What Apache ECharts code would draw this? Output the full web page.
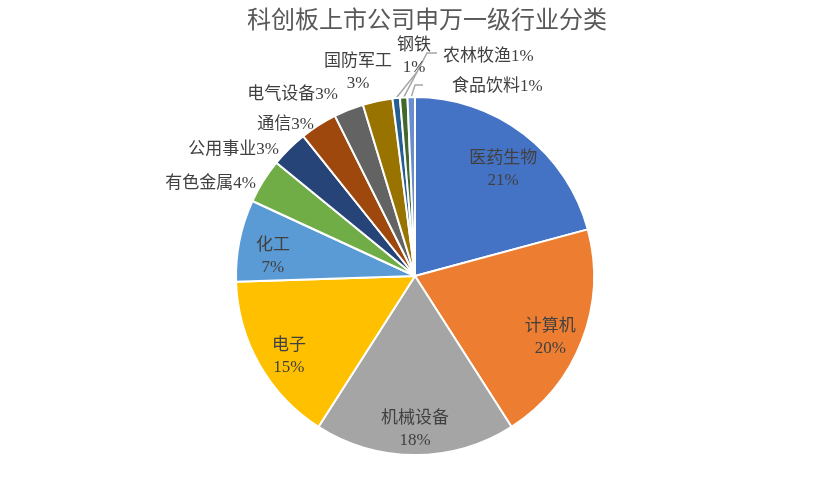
<!DOCTYPE html>
<html>
<head>
<meta charset="utf-8">
<script src="https://cdn.jsdelivr.net/npm/echarts@6/dist/echarts.min.js"></script>
<style>
  html, body { margin: 0; padding: 0; background: #fff; }
  #main { width: 832px; height: 504px; }
</style>
</head>
<body>
<div id="main"></div>
<script>
// 行业分类（公司数量）
var industries = ["医药生物", "计算机", "机械设备", "电子", "化工", "有色金属", "公用事业",
  "通信", "电气设备", "国防军工", "钢铁", "农林牧渔", "食品饮料"];
var counts = [31, 30, 27, 23, 11, 6, 5, 5, 4, 4, 1, 1, 1];
var colors = ["#4472C4", "#ED7D31", "#A5A5A5", "#FFC000", "#5B9BD5", "#70AD47", "#264478",
  "#9E480E", "#636363", "#997300", "#255E91", "#43682B", "#698ED0"];
// 标签在扇区内部的行业
var insideNames = ["医药生物", "计算机", "机械设备", "电子", "化工"];
var twoLineNames = ["国防军工", "钢铁"];
var leaderNames = ["钢铁", "农林牧渔", "食品饮料"];

// 外部标签的摆放位置 [x, y, 对齐], 引导线折点
var outerLabelPos = {
  "有色金属": [256, 184, "right"],
  "公用事业": [279, 150, "right"],
  "通信": [314, 125, "right"],
  "电气设备": [338, 95, "right"],
  "国防军工": [358, 73, "center"],
  "钢铁": [414, 57, "center"],
  "农林牧渔": [443, 57, "left"],
  "食品饮料": [452, 87, "left"]
};
var leaderBends = {
  "钢铁": [[417, 72], [417, 72]],
  "农林牧渔": [[427, 53], [437, 53]],
  "食品饮料": [[415, 85], [423, 85]]
};

var labelFont = "'Liberation Serif', 'Noto Sans CJK SC', serif";

var pieData = [];
var insideData = [];
for (let i = 0; i < industries.length; i++) {
  let name = industries[i];
  let inside = insideNames.indexOf(name) >= 0;
  pieData.push({
    name: name,
    value: counts[i],
    itemStyle: { color: colors[i] },
    label: {
      show: !inside,
      formatter: twoLineNames.indexOf(name) >= 0 ? "{b}\n{d}%" : "{b}{d}%"
    },
    labelLine: { show: leaderNames.indexOf(name) >= 0 }
  });
  insideData.push({
    name: name,
    value: counts[i],
    label: { show: inside }
  });
}

var myChart = echarts.init(document.getElementById("main"));
var option = {
  animation: false,
  title: {
    text: "科创板上市公司申万一级行业分类",
    left: 242,
    top: 2,
    textStyle: {
      fontFamily: "'Noto Sans CJK SC', sans-serif",
      fontSize: 24,
      fontWeight: "normal",
      color: "#595959"
    }
  },
  series: [
    {
      name: "行业",
      type: "pie",
      center: [415, 276],
      radius: [0, 179],
      startAngle: 90,
      clockwise: true,
      percentPrecision: 0,
      avoidLabelOverlap: false,
      itemStyle: { borderColor: "#fff", borderWidth: 2 },
      label: {
        position: "outside",
        fontFamily: labelFont,
        fontSize: 17,
        color: "#404040",
        lineHeight: 22
      },
      labelLine: {
        length: 8,
        length2: 8,
        lineStyle: { color: "#A6A6A6", width: 1.5 }
      },
      labelLayout: function (params) {
        let name = industries[params.dataIndex];
        let pos = outerLabelPos[name];
        if (!pos) return {};
        let res = { x: pos[0], y: pos[1], align: pos[2], verticalAlign: "middle" };
        let bends = leaderBends[name];
        if (bends && params.labelLinePoints) {
          res.labelLinePoints = [params.labelLinePoints[0], bends[0], bends[1]];
        }
        return res;
      },
      emphasis: { disabled: true },
      data: pieData
    },
    {
      name: "内部标签",
      type: "pie",
      center: [415, 276],
      radius: [100, 184],
      startAngle: 90,
      clockwise: true,
      percentPrecision: 0,
      silent: true,
      itemStyle: { color: "rgba(0,0,0,0)" },
      label: {
        position: "inside",
        formatter: "{b}\n{d}%",
        fontFamily: labelFont,
        fontSize: 17,
        color: "#404040",
        lineHeight: 22
      },
      labelLayout: { dy: 9 },
      emphasis: { disabled: true },
      data: insideData
    }
  ]
};
myChart.setOption(option);
</script>
</body>
</html>
